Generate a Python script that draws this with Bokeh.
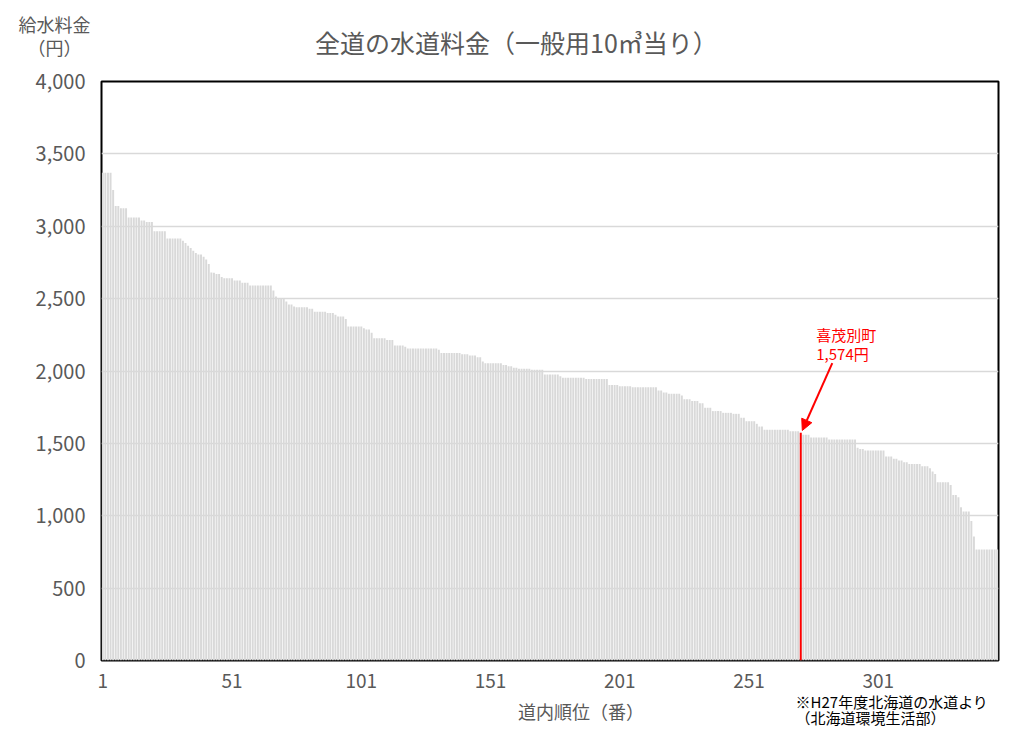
from bokeh.plotting import figure
from bokeh.models import Label, Arrow, NormalHead, FixedTicker, NumeralTickFormatter, Range1d
from bokeh.core.properties import value
from bokeh.embed import file_html
from bokeh.resources import INLINE

# ---- data ----
fee_yen = [
    3370, 3370, 3370, 3370, 3250, 3140, 3140, 3125, 3125, 3125,
    3060, 3060, 3060, 3060, 3060, 3040, 3040, 3030, 3030, 3030,
    2965, 2965, 2965, 2965, 2965, 2915, 2915, 2915, 2915, 2915,
    2915, 2900, 2885, 2865, 2850, 2830, 2815, 2805, 2805, 2790,
    2770, 2740, 2680, 2678, 2670, 2670, 2650, 2640, 2640, 2640,
    2640, 2625, 2625, 2625, 2610, 2610, 2610, 2590, 2590, 2590,
    2590, 2590, 2590, 2590, 2590, 2590, 2556, 2515, 2505, 2505,
    2500, 2480, 2460, 2460, 2445, 2440, 2440, 2440, 2440, 2440,
    2430, 2430, 2410, 2410, 2410, 2410, 2410, 2400, 2400, 2400,
    2388, 2376, 2376, 2376, 2360, 2307, 2307, 2307, 2307, 2307,
    2307, 2296, 2287, 2287, 2264, 2227, 2227, 2227, 2227, 2227,
    2215, 2215, 2215, 2176, 2176, 2176, 2176, 2167, 2155, 2155,
    2155, 2155, 2155, 2155, 2155, 2155, 2155, 2155, 2155, 2155,
    2146, 2125, 2125, 2125, 2125, 2125, 2125, 2125, 2125, 2116,
    2116, 2116, 2107, 2107, 2107, 2095, 2095, 2066, 2054, 2054,
    2054, 2054, 2054, 2054, 2054, 2042, 2042, 2033, 2033, 2022,
    2022, 2015, 2015, 2015, 2015, 2015, 2008, 2008, 2008, 2008,
    2008, 1976, 1976, 1976, 1976, 1976, 1976, 1964, 1953, 1953,
    1953, 1953, 1953, 1953, 1953, 1953, 1953, 1944, 1944, 1944,
    1944, 1944, 1944, 1944, 1944, 1944, 1904, 1904, 1904, 1904,
    1895, 1895, 1895, 1895, 1895, 1888, 1888, 1888, 1888, 1888,
    1888, 1888, 1888, 1888, 1888, 1865, 1865, 1851, 1851, 1842,
    1842, 1842, 1842, 1842, 1831, 1804, 1804, 1804, 1792, 1792,
    1792, 1778, 1778, 1746, 1746, 1746, 1723, 1723, 1723, 1723,
    1711, 1711, 1711, 1711, 1704, 1704, 1704, 1677, 1677, 1653,
    1653, 1653, 1653, 1635, 1616, 1616, 1594, 1594, 1594, 1594,
    1594, 1594, 1594, 1594, 1594, 1594, 1584, 1584, 1584, 1584,
    1574, 1559, 1559, 1559, 1540, 1540, 1540, 1540, 1540, 1540,
    1540, 1527, 1527, 1527, 1527, 1527, 1527, 1527, 1527, 1527,
    1527, 1527, 1469, 1462, 1462, 1451, 1451, 1451, 1451, 1451,
    1451, 1451, 1451, 1409, 1409, 1409, 1393, 1393, 1382, 1382,
    1370, 1370, 1358, 1358, 1358, 1358, 1358, 1342, 1342, 1342,
    1328, 1305, 1289, 1232, 1232, 1232, 1232, 1232, 1213, 1144,
    1144, 1128, 1059, 1029, 1029, 1029, 963, 857, 767, 767,
    767, 767, 767, 767, 767, 767, 767,
]
ranks = list(range(1, len(fee_yen) + 1))

x_tick_ranks = [1, 51, 101, 151, 201, 251, 301]
y_ticks = [0, 500, 1000, 1500, 2000, 2500, 3000, 3500, 4000]

highlight_name = "喜茂別町"
highlight_rank = 271
highlight_fee = 1574

title_text = "全道の水道料金（一般用10㎥当り）"
y_title_lines = ["給水料金", "（円）"]
x_title_text = "道内順位（番）"
source_lines = ["※H27年度北海道の水道より", "（北海道環境生活部）"]

# ---- styling ----
JP = "Noto Sans CJK JP"
GRAY_TEXT = "#595959"
BAR = "#d9d9d9"
N = len(fee_yen)

p = figure(width=1010, height=736,
           x_range=Range1d(0.5, N + 0.5), y_range=Range1d(0, 4000),
           output_backend="svg", toolbar_location=None,
           min_border_left=101, min_border_right=12,
           min_border_top=81, min_border_bottom=76)
p.background_fill_color = "white"
p.border_fill_color = "white"
p.outline_line_color = "black"
p.outline_line_width = 2

p.vbar(x=ranks, top=fee_yen, width=0.75, fill_color=BAR, line_color=None)
p.vbar(x=[highlight_rank], top=[highlight_fee], width=0.75, fill_color="#ff0000", line_color=None)

# axes
p.yaxis.ticker = FixedTicker(ticks=y_ticks)
p.yaxis.formatter = NumeralTickFormatter(format="0,0")
p.xaxis.ticker = FixedTicker(ticks=x_tick_ranks)
for ax in (p.xaxis, p.yaxis):
    ax.axis_line_color = None
    ax.major_tick_line_color = None
    ax.minor_tick_line_color = None
    ax.major_label_text_font = JP
    ax.major_label_text_color = GRAY_TEXT
p.yaxis.major_label_text_font_size = "20px"
p.xaxis.major_label_text_font_size = "19px"
p.yaxis.major_label_standoff = 10
p.xaxis.major_label_standoff = 7

p.xgrid.visible = False
p.ygrid.grid_line_color = BAR
p.ygrid.grid_line_width = 1.5

def outer_text(x, y, text, size, color=GRAY_TEXT, align="center"):
    # text outside the plot frame; overlay level so that it is not clipped
    p.text(x=[x], y=[y], text=[text], text_font=value(JP), text_font_size=value(size),
           text_color=color, text_align=align, text_baseline="middle", level="overlay")

# title and axis titles (outside the frame, placed in data units)
outer_text(161.0, 4276, title_text, "25px")
outer_text(-17.7, 4400, y_title_lines[0], "18px")
outer_text(-17.7, 4238, y_title_lines[1], "18px")
outer_text(186, -350, x_title_text, "18px")
outer_text(269.0, -283, source_lines[0], "15px", color="black", align="left")
outer_text(269.0, -394, source_lines[1], "15px", color="black", align="left")

# highlight annotation
for txt, yy in ((highlight_name, 2252), (f"{highlight_fee:,}円", 2121)):
    p.add_layout(Label(x=highlight_rank + 6, y=yy, text=txt, text_font=JP, text_font_size="15px",
                       text_color="#ff0000", text_align="left", text_baseline="middle"))
p.add_layout(Arrow(end=NormalHead(size=11, fill_color="#ff0000", line_color="#ff0000"),
                   x_start=highlight_rank + 12.2, y_start=2054,
                   x_end=highlight_rank + 0.6, y_end=highlight_fee + 15,
                   line_color="#ff0000", line_width=2))

open("out.html", "w").write(file_html(p, INLINE))
